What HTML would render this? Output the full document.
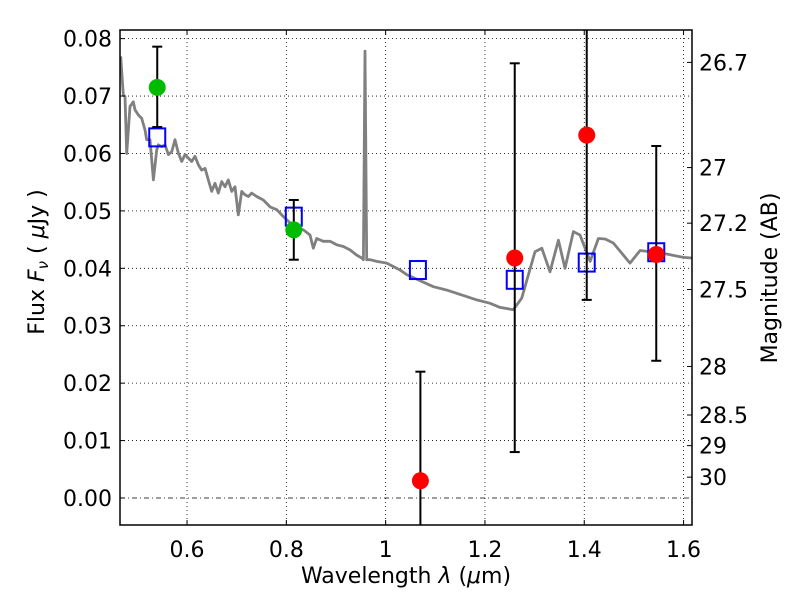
<!DOCTYPE html>
<html><head><meta charset="utf-8"><style>
body{margin:0;background:#fff;}
svg text{font-family:"DejaVu Sans","Liberation Sans",sans-serif;fill:#000;}
</style></head><body>
<svg id="chart" width="800" height="600" xmlns="http://www.w3.org/2000/svg">
<defs><clipPath id="plotclip"><rect x="120" y="30" width="572" height="495"/></clipPath></defs>
<rect width="800" height="600" fill="#fff"/>
<g id="grid"></g><g id="spec" clip-path="url(#plotclip)"></g><g id="marks" clip-path="url(#plotclip)"></g><g id="axes"></g>
</svg>
<script>
const specWave=[0.4665,0.4717,0.4751,0.4785,0.4852,0.4918,0.4953,0.5020,0.5087,0.5154,0.5188,0.5255,0.5322,0.5390,0.5422,0.5490,0.5557,0.5624,0.5692,0.5758,0.5825,0.5893,0.5960,0.6026,0.6095,0.6161,0.6228,0.6296,0.6363,0.6429,0.6497,0.6564,0.6630,0.6699,0.6765,0.6832,0.6900,0.6967,0.7033,0.7102,0.7168,0.7235,0.7303,0.7404,0.7537,0.7672,0.7807,0.7940,0.8075,0.8209,0.8342,0.8477,0.8544,0.8612,0.8745,0.8880,0.9015,0.9148,0.9283,0.9418,0.9519,0.9553,0.9585,0.9619,0.9686,0.9821,1.0022,1.0290,1.0425,1.0961,1.1231,1.1835,1.2103,1.2304,1.2572,1.2741,1.3009,1.3144,1.3311,1.3479,1.3613,1.3781,1.3915,1.4117,1.4284,1.4419,1.4586,1.4922,1.5124,1.5593,1.5996,1.6170];
const specFlux=[0.0769,0.0702,0.0699,0.0600,0.0682,0.0690,0.0676,0.0667,0.0661,0.0641,0.0624,0.0624,0.0554,0.0606,0.0615,0.0612,0.0615,0.0598,0.0603,0.0624,0.0601,0.0586,0.0598,0.0592,0.0586,0.0595,0.0580,0.0571,0.0574,0.0554,0.0534,0.0548,0.0531,0.0551,0.0542,0.0554,0.0534,0.0542,0.0493,0.0534,0.0528,0.0525,0.0531,0.0525,0.0519,0.0507,0.0502,0.0490,0.0479,0.0470,0.0467,0.0458,0.0435,0.0452,0.0447,0.0447,0.0441,0.0438,0.0432,0.0423,0.0418,0.0415,0.0778,0.0415,0.0415,0.0412,0.0409,0.0397,0.0389,0.0368,0.0362,0.0345,0.0339,0.0332,0.0328,0.0348,0.0429,0.0435,0.0394,0.0449,0.0400,0.0464,0.0458,0.0412,0.0452,0.0451,0.0444,0.0409,0.0431,0.0426,0.0419,0.0418];
const greenWave=[0.54,0.815];
const greenFlux=[0.0715,0.0467];
const greenLo=[0.0646,0.0415];
const greenHi=[0.0786,0.0519];
const modelWave=[0.54,0.815,1.065,1.26,1.405,1.545];
const modelFlux=[0.0628,0.0490,0.0397,0.0380,0.0410,0.0428];
const redWave=[1.07,1.26,1.405,1.545];
const redFlux=[0.0030,0.0418,0.0632,0.0424];
const redLo=[-0.012,0.0080,0.0345,0.0239];
const redHi=[0.0220,0.0757,0.0900,0.0613];
const xTicks=[0.6,0.8,1.0,1.2,1.4,1.6];
const xTickLabels=["0.6","0.8","1","1.2","1.4","1.6"];
const yTicks=[0,0.01,0.02,0.03,0.04,0.05,0.06,0.07,0.08];
const yTickLabels=["0.00","0.01","0.02","0.03","0.04","0.05","0.06","0.07","0.08"];
const magTicks=[26.7,27,27.2,27.5,28,28.5,29,30];
const magTickLabels=["26.7","27","27.2","27.5","28","28.5","29","30"];

const L=120,R=692,T=30,B=525;
const X0=0.465,X1=1.617,Y0=-0.0047,Y1=0.0815;
const sx=v=>L+(v-X0)/(X1-X0)*(R-L);
const sy=v=>B-(v-Y0)/(Y1-Y0)*(B-T);
const NS="http://www.w3.org/2000/svg";
function mk(parent,tag,attrs){const e=document.createElementNS(NS,tag);for(const k in attrs)e.setAttribute(k,attrs[k]);parent.appendChild(e);return e;}
const grid=document.getElementById('grid'),spec=document.getElementById('spec'),marks=document.getElementById('marks'),axes=document.getElementById('axes');
const FS=22;
xTicks.forEach((v,i)=>{
  const g=mk(grid,'line',{x1:sx(v),x2:sx(v),y1:T,y2:B,stroke:'#000','stroke-width':0.8,'stroke-dasharray':'1,3'});
  
  
  mk(axes,'line',{x1:sx(v),x2:sx(v),y1:B,y2:B-5,stroke:'#000'});
  mk(axes,'line',{x1:sx(v),x2:sx(v),y1:T,y2:T+5,stroke:'#000'});
  const t=mk(axes,'text',{x:sx(v),y:557,'text-anchor':'middle','font-size':FS});
  t.textContent=xTickLabels[i];
  
  
});
yTicks.forEach((v,i)=>{
  const g=mk(grid,'line',{x1:L,x2:R,y1:sy(v),y2:sy(v),stroke:'#000','stroke-width':0.8,'stroke-dasharray':v===0?'5,3,1,3':'1,3'});
  
  
  mk(axes,'line',{x1:L,x2:L+5,y1:sy(v),y2:sy(v),stroke:'#000'});
  const t=mk(axes,'text',{x:112,y:sy(v)+8,'text-anchor':'end','font-size':FS});
  t.textContent=yTickLabels[i];
  
  
});
magTicks.forEach((m,i)=>{
  const f=Math.pow(10,(23.9-m)/2.5);
  mk(axes,'line',{x1:R-5,x2:R,y1:sy(f),y2:sy(f),stroke:'#000'});
  const t=mk(axes,'text',{x:699,y:sy(f)+8,'font-size':FS});
  t.textContent=magTickLabels[i];
  
  
});

const pts=specWave.map((w,i)=>sx(w).toFixed(1)+','+sy(specFlux[i]).toFixed(1)).join(' ');
const pl=mk(spec,'polyline',{points:pts,fill:'none',stroke:'#808080','stroke-width':2.8,'stroke-linejoin':'round'});



function errbar(w,lo,hi){
  const g=mk(marks,'g',{});
  
  
  mk(g,'line',{x1:sx(w),x2:sx(w),y1:sy(lo),y2:sy(hi),stroke:'#000','stroke-width':2});
  mk(g,'line',{x1:sx(w)-5,x2:sx(w)+5,y1:sy(lo),y2:sy(lo),stroke:'#000','stroke-width':2});
  mk(g,'line',{x1:sx(w)-5,x2:sx(w)+5,y1:sy(hi),y2:sy(hi),stroke:'#000','stroke-width':2});
}
modelWave.forEach((w,i)=>{
  const r=mk(marks,'rect',{x:sx(w)-8,y:sy(modelFlux[i])-9,width:16,height:18,fill:'none',stroke:'#0000ff','stroke-width':2});
  
  
});
greenWave.forEach((w,i)=>{
  errbar(w,greenLo[i],greenHi[i]);
  const c=mk(marks,'circle',{cx:sx(w),cy:sy(greenFlux[i]),r:8.5,fill:'#00bb00'});
  
  
});
redWave.forEach((w,i)=>{
  errbar(w,redLo[i],redHi[i]);
  const c=mk(marks,'circle',{cx:sx(w),cy:sy(redFlux[i]),r:8.5,fill:'#ff0000'});
  
  
});
const frame=mk(axes,'rect',{x:L,y:T,width:R-L,height:B-T,fill:'none',stroke:'#000','stroke-width':1.5});


let t=mk(axes,'text',{x:406,y:583,'text-anchor':'middle','font-size':FS});
t.innerHTML='Wavelength  <tspan font-style="italic">λ</tspan> (<tspan font-style="italic">μ</tspan>m)';


t=mk(axes,'text',{x:0,y:0,'text-anchor':'middle','font-size':FS,transform:'translate(44,262) rotate(-90)'});
t.innerHTML='Flux  <tspan font-style="italic">F</tspan><tspan font-style="italic" font-size="15" dy="4">ν</tspan><tspan dy="-4">  ( </tspan><tspan font-style="italic">μ</tspan>Jy )';


t=mk(axes,'text',{x:0,y:0,'text-anchor':'middle','font-size':FS,transform:'translate(777,278) rotate(-90)'});
t.textContent='Magnitude (AB)';


</script>
</body></html>
